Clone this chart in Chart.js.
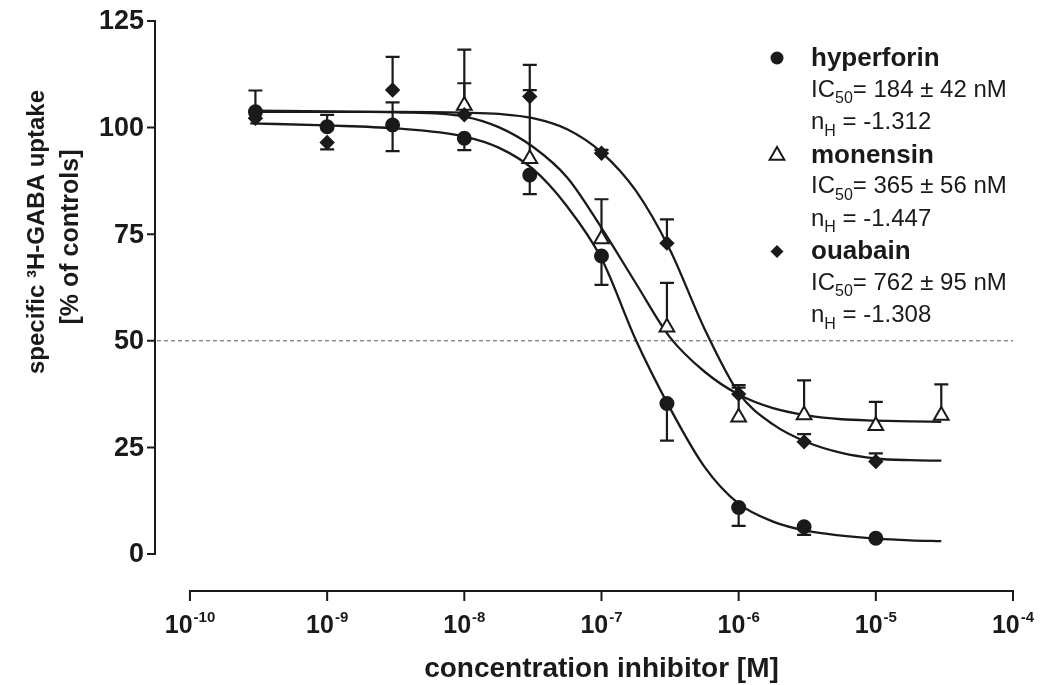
<!DOCTYPE html>
<html>
<head>
<meta charset="utf-8">
<script src="https://cdn.jsdelivr.net/npm/chart.js@4/dist/chart.umd.min.js"></script>
<style>
  html, body { margin: 0; padding: 0; background: #fff; }
</style>
</head>
<body>
<canvas id="uptakeChart" width="1042" height="685"></canvas>
<script>
// measured concentrations [M]
const conc = [3e-10, 1e-9, 3e-9, 1e-8, 3e-8, 1e-7, 3e-7, 1e-6, 3e-6, 1e-5, 3e-5];

// means + error bars (% of controls)
const hyperforinMean    = [103.7, 100.2, 100.6, 97.5, 88.9, 69.9, 35.3, 10.9, 6.4, 3.7, null];
const hyperforinErrUp   = [5.0, 2.8, 5.3, 0, 0, 0, 0, 0, 0, 0, 0];
const hyperforinErrDown = [0, 0, 6.1, 2.8, 4.5, 6.8, 8.7, 4.3, 1.9, 0, 0];

const monensinMean    = [null, null, null, 105.2, 92.7, 73.9, 53.2, 32.1, 32.6, 30.1, 32.5];
const monensinErrUp   = [0, 0, 0, 13.1, 22.0, 9.3, 10.4, 7.5, 8.1, 5.6, 7.3];
const monensinErrDown = [0, 0, 0, 0, 0, 0, 0, 0, 0, 0, 0];

const ouabainMean    = [102.2, 96.5, 108.8, 103.0, 107.3, 94.0, 72.9, 37.5, 26.3, 21.7, null];
const ouabainErrUp   = [0, 0, 7.8, 7.4, 1.5, 0.8, 5.6, 1.5, 1.8, 1.9, 0];
const ouabainErrDown = [0, 1.6, 0, 0, 0, 0, 0, 0, 0, 0, 0];

// fitted curves, sampled from the figure
const curveConc     = [2.75e-10, 1e-9, 3.16e-9, 1e-8, 1.78e-8, 3.16e-8, 5.62e-8, 1e-7, 1.78e-7, 3.16e-7, 5.62e-7, 1e-6, 1.78e-6, 3.16e-6, 5.62e-6, 1e-5, 1.78e-5, 3.0e-5];
const hyperforinFit = [101.0, 100.5, 99.8, 97.9, 95.3, 90.3, 81.5, 69.3, 50.2, 34.2, 20.5, 11.8, 7.6, 5.4, 4.3, 3.6, 3.2, 3.0];
const monensinFit   = [104.0, 103.8, 103.6, 102.6, 100.1, 95.5, 88.3, 76.5, 63.5, 50.8, 42.8, 37.4, 34.2, 32.5, 31.6, 31.3, 31.1, 31.0];
const ouabainFit    = [103.7, 103.7, 103.7, 103.5, 103.2, 102.2, 99.6, 94.2, 85.2, 71.3, 52.9, 37.8, 30.4, 26.2, 23.7, 22.4, 22.0, 21.9];

// axes + legend text
const yTicks = [0, 25, 50, 75, 100, 125];
const xTickExps = [-10, -9, -8, -7, -6, -5, -4];
const halfMax = 50;
const legendNames = ['hyperforin', 'monensin', 'ouabain'];
const legendIC50 = ['184 \u00b1 42 nM', '365 \u00b1 56 nM', '762 \u00b1 95 nM'];
const legendHill = ['-1.312', '-1.447', '-1.308'];

const INK = '#1a1a1a';
const FONT = '"Liberation Sans", Arial, Helvetica, sans-serif';

function pts(xs, ys) {
  const out = [];
  xs.forEach((x, i) => { if (ys[i] !== null) out.push({ x: x, y: ys[i] }); });
  return out;
}

function fitSet(values) {
  return {
    data: pts(curveConc, values),
    borderColor: INK,
    borderWidth: 2.3,
    pointRadius: 0,
    showLine: true,
    cubicInterpolationMode: 'monotone',
    fill: false,
    order: 2
  };
}

function pointSet(values, up, down, style, radius, bg, order) {
  return {
    data: pts(conc, values),
    errUp: up.filter((e, i) => values[i] !== null),
    errDown: down.filter((e, i) => values[i] !== null),
    showLine: false,
    pointStyle: style,
    pointRadius: radius,
    pointBackgroundColor: bg,
    pointBorderColor: INK,
    pointBorderWidth: 2,
    order: order
  };
}

const axesAndText = {
  id: 'axesAndText',
  beforeDatasetsDraw(chart) {
    const ctx = chart.ctx;
    const x = chart.scales.x, y = chart.scales.y;
    const area = chart.chartArea;
    ctx.save();

    // dashed 50% line
    ctx.strokeStyle = '#555';
    ctx.lineWidth = 1;
    ctx.setLineDash([4, 3]);
    ctx.beginPath();
    ctx.moveTo(area.left + 2, y.getPixelForValue(halfMax));
    ctx.lineTo(area.right, y.getPixelForValue(halfMax));
    ctx.stroke();
    ctx.setLineDash([]);

    // error bars
    ctx.strokeStyle = INK;
    ctx.lineWidth = 2.2;
    chart.data.datasets.forEach(ds => {
      if (!ds.errUp) return;
      ds.data.forEach((p, i) => {
        const px = x.getPixelForValue(p.x);
        [[ds.errUp[i], 1], [ds.errDown[i], -1]].forEach(([e, dir]) => {
          if (!e) return;
          const y0 = y.getPixelForValue(p.y);
          const y1 = y.getPixelForValue(p.y + dir * e);
          ctx.beginPath();
          ctx.moveTo(px, y0);
          ctx.lineTo(px, y1);
          ctx.moveTo(px - 7, y1);
          ctx.lineTo(px + 7, y1);
          ctx.stroke();
        });
      });
    });
    ctx.restore();
  },
  afterDraw(chart) {
    const ctx = chart.ctx;
    const x = chart.scales.x, y = chart.scales.y;
    const area = chart.chartArea;
    ctx.save();
    ctx.strokeStyle = INK;
    ctx.fillStyle = INK;
    ctx.lineWidth = 2;

    // y axis
    const yTop = y.getPixelForValue(yTicks[yTicks.length - 1]);
    const yBot = y.getPixelForValue(yTicks[0]);
    ctx.beginPath();
    ctx.moveTo(area.left, yBot + 1);
    ctx.lineTo(area.left, yTop - 1);
    yTicks.forEach(t => {
      const py = y.getPixelForValue(t);
      ctx.moveTo(area.left - 8, py);
      ctx.lineTo(area.left + 1, py);
    });
    ctx.stroke();
    ctx.font = 'bold 27px ' + FONT;
    ctx.textAlign = 'right';
    ctx.textBaseline = 'middle';
    yTicks.forEach(t => ctx.fillText(String(t), area.left - 11, y.getPixelForValue(t) + 1));

    // x axis (offset below the plot)
    const axY = area.bottom + 1;
    const xl = x.getPixelForValue(Math.pow(10, xTickExps[0]));
    const xr = x.getPixelForValue(Math.pow(10, xTickExps[xTickExps.length - 1]));
    ctx.beginPath();
    ctx.moveTo(xl - 1, axY);
    ctx.lineTo(xr + 1, axY);
    xTickExps.forEach(e => {
      const px = x.getPixelForValue(Math.pow(10, e));
      ctx.moveTo(px, axY);
      ctx.lineTo(px, axY + 10);
    });
    ctx.stroke();
    ctx.textAlign = 'left';
    ctx.textBaseline = 'alphabetic';
    xTickExps.forEach(e => {
      const px = x.getPixelForValue(Math.pow(10, e));
      ctx.font = 'bold 25px ' + FONT;
      const wb = ctx.measureText('10').width;
      ctx.font = 'bold 15px ' + FONT;
      const expStr = String(e);
      const we = ctx.measureText(expStr).width;
      const x0 = px - (wb + 1 + we) / 2;
      ctx.font = 'bold 25px ' + FONT;
      ctx.fillText('10', x0, 633);
      ctx.font = 'bold 15px ' + FONT;
      ctx.fillText(expStr, x0 + wb + 1, 622);
    });

    // x title
    ctx.font = 'bold 28px ' + FONT;
    ctx.textAlign = 'center';
    ctx.fillText('concentration inhibitor [M]', (xl + xr) / 2, 677);

    // y title
    ctx.save();
    ctx.translate(37, 232);
    ctx.rotate(-Math.PI / 2);
    ctx.textBaseline = 'middle';
    ctx.font = 'bold 24px ' + FONT;
    ctx.fillText('specific \u00b3H-GABA uptake', 0, 0);
    ctx.font = 'bold 25px ' + FONT;
    ctx.fillText('[% of controls]', -5, 34);
    ctx.restore();

    // legend block
    const lx = 811, mx = 777;
    legendNames.forEach((name, i) => {
      const base = 66 + i * 96.5;
      ctx.lineWidth = 2;
      ctx.fillStyle = INK;
      ctx.beginPath();
      if (i === 0) {
        ctx.arc(mx, base - 8, 6.5, 0, Math.PI * 2);
        ctx.fill();
      } else if (i === 1) {
        const cy = base - 7, r = 8.5;
        ctx.moveTo(mx, cy - r);
        ctx.lineTo(mx + r * 0.866, cy + r / 2);
        ctx.lineTo(mx - r * 0.866, cy + r / 2);
        ctx.closePath();
        ctx.fillStyle = '#fff';
        ctx.fill();
        ctx.stroke();
        ctx.fillStyle = INK;
      } else {
        const cy = base - 7.5, r = 6.5;
        ctx.moveTo(mx, cy - r);
        ctx.lineTo(mx + r, cy);
        ctx.lineTo(mx, cy + r);
        ctx.lineTo(mx - r, cy);
        ctx.closePath();
        ctx.fill();
      }
      ctx.textAlign = 'left';
      ctx.textBaseline = 'alphabetic';
      ctx.font = 'bold 26px ' + FONT;
      ctx.fillText(name, lx, base);

      // IC50 line
      const b2 = base + 30.7;
      ctx.font = '24px ' + FONT;
      ctx.fillText('IC', lx, b2);
      let cx = lx + ctx.measureText('IC').width;
      ctx.font = '16px ' + FONT;
      ctx.fillText('50', cx, b2 + 6.5);
      cx += ctx.measureText('50').width;
      ctx.font = '24px ' + FONT;
      ctx.fillText('= ' + legendIC50[i], cx, b2);

      // Hill slope line
      const b3 = base + 63.3;
      ctx.fillText('n', lx, b3);
      cx = lx + ctx.measureText('n').width;
      ctx.font = '16px ' + FONT;
      ctx.fillText('H', cx, b3 + 6.5);
      cx += ctx.measureText('H').width;
      ctx.font = '24px ' + FONT;
      ctx.fillText(' = ' + legendHill[i], cx, b3);
    });
    ctx.restore();
  }
};

new Chart(document.getElementById('uptakeChart').getContext('2d'), {
  type: 'line',
  data: {
    datasets: [
      pointSet(hyperforinMean, hyperforinErrUp, hyperforinErrDown, 'circle', 6.5, INK, 0),
      pointSet(ouabainMean, ouabainErrUp, ouabainErrDown, 'rectRot', 6.3, INK, 0),
      pointSet(monensinMean, monensinErrUp, monensinErrDown, 'triangle', 8.5, '#fff', 1),
      fitSet(hyperforinFit),
      fitSet(monensinFit),
      fitSet(ouabainFit)
    ]
  },
  options: {
    responsive: false,
    animation: false,
    devicePixelRatio: 1,
    layout: { padding: { left: 155, right: 29, top: 21, bottom: 95 } },
    plugins: { legend: { display: false }, tooltip: { enabled: false } },
    scales: {
      x: { type: 'logarithmic', min: Math.pow(10, -10.255), max: 1e-4, display: false },
      y: { type: 'linear', min: -8.44, max: 125, display: false }
    }
  },
  plugins: [axesAndText]
});
</script>
</body>
</html>
